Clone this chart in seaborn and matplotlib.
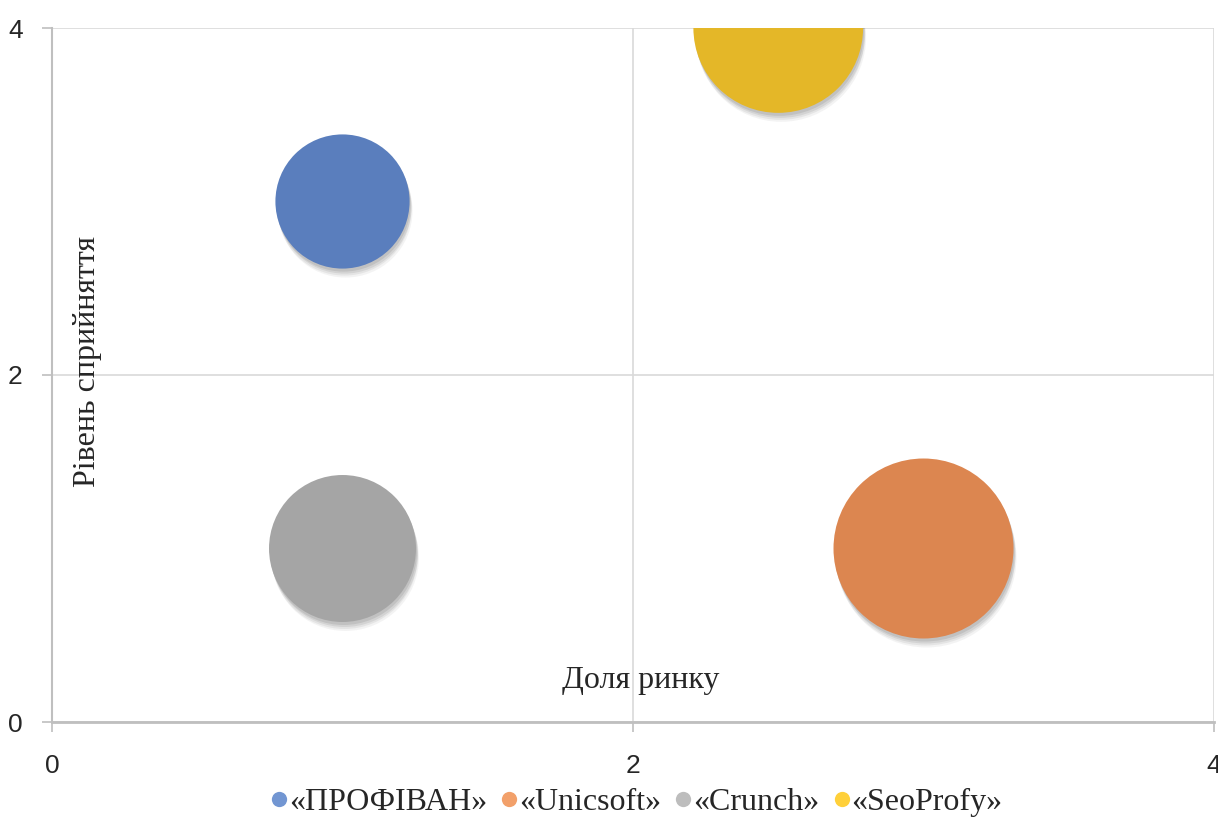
import numpy as np
import pandas as pd
import matplotlib
matplotlib.use('Agg')
import matplotlib.pyplot as plt
import matplotlib.transforms as mtransforms
from matplotlib.lines import Line2D
import seaborn as sns

# data
companies = ['«ПРОФІВАН»', '«Unicsoft»', '«Crunch»', '«SeoProfy»']
market_share = [1, 3, 1, 2.5]
perception = [3, 1, 1, 4]
bubble_size = [5, 9, 6, 8]
bubble_colors = ['#5a7ebd', '#dc8650', '#a5a5a5', '#e4b728']
legend_colors = ['#7296d2', '#f2a06a', '#bdbdbd', '#ffd03a']
x_ticks = [0, 2, 4]
y_ticks = [0, 2, 4]

df = pd.DataFrame({'company': companies, 'x': market_share,
                   'y': perception, 'size': bubble_size})

sns.set_style('white')
plt.rcParams['font.family'] = ['Liberation Serif', 'DejaVu Sans']

fig = plt.figure(figsize=(12.18, 8.17), dpi=100)
ax = fig.add_axes([52 / 1218, 95 / 817, 1162 / 1218, 694 / 817])

# area per size unit (max bubble radius ~90 px)
k = (180 * 0.72) ** 2 / max(bubble_size)
size_map = {v: v * k for v in bubble_size}

# soft shadows
for dx, dy, a in [(3, -9, 0.06), (2, -7, 0.08), (2, -5, 0.10), (1, -3, 0.12)]:
    sns.scatterplot(data=df, x='x', y='y', size='size', sizes=size_map,
                    color='#404040', alpha=a, linewidth=0, legend=False, ax=ax)
    coll = ax.collections[-1]
    off = mtransforms.ScaledTranslation(dx / 100, dy / 100, fig.dpi_scale_trans)
    coll.set_offset_transform(ax.transData + off)

sns.scatterplot(data=df, x='x', y='y', hue='company', size='size',
                sizes=size_map, palette=bubble_colors, hue_order=companies,
                linewidth=0, alpha=1, legend=False, ax=ax, zorder=3)

ax.set_xlim(0, 4)
ax.set_ylim(0, 4)
ax.set_xticks(x_ticks)
ax.set_yticks(y_ticks)
ax.grid(True, color='#d9d9d9', linewidth=1.2)
ax.set_axisbelow(True)
for s in ['top', 'right']:
    ax.spines[s].set_visible(False)
ax.spines['left'].set_color('#bfbfbf')
ax.spines['left'].set_linewidth(1.5)
ax.spines['bottom'].set_color('#bfbfbf')
ax.spines['bottom'].set_linewidth(2)
ax.tick_params(axis='both', direction='out', length=7, width=1.2,
               color='#bfbfbf', labelsize=19, left=True, bottom=True)
for lab in ax.get_xticklabels() + ax.get_yticklabels():
    lab.set_family('Liberation Sans')
ax.tick_params(axis='x', pad=16)
ax.tick_params(axis='y', pad=14)

ax.set_xlabel('Доля ринку', fontsize=23)
ax.set_ylabel('Рівень сприйняття', fontsize=23)
ax.xaxis.set_label_coords(0.507, 0.08)
ax.yaxis.set_label_coords(0.043, 0.52)

handles = [Line2D([], [], marker='o', linestyle='', markersize=11,
                  markerfacecolor=c, markeredgecolor='none') for c in legend_colors]
fig.legend(handles, companies, loc='lower center', ncol=4,
           bbox_to_anchor=(0.519, -0.035), frameon=False, fontsize=23,
           handletextpad=-0.24, columnspacing=0.14, handlelength=1.1)

fig.savefig('out.png', dpi=100)
